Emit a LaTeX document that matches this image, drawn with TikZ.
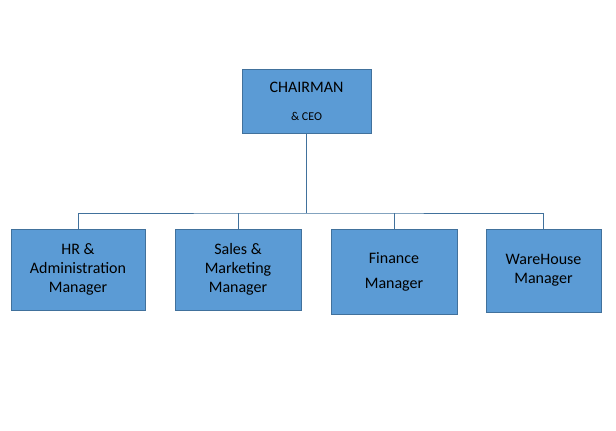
\documentclass[tikz,border=0pt]{standalone}
\usepackage{fontspec}
\setmainfont{Carlito}
\begin{document}
\begin{tikzpicture}[x=1pt,y=-1pt]
\definecolor{boxfill}{HTML}{5B9BD5}
\definecolor{boxline}{HTML}{41719C}
\definecolor{conn}{HTML}{41719C}
\tikzset{orgbox/.style={draw=boxline,fill=boxfill,line width=0.8pt,align=center,font=\fontsize{16}{19}\selectfont,text=black,inner sep=0pt},
 link/.style={draw=conn,line width=0.8pt}}
\useasboundingbox (0,0) rectangle (616,431);
\node[orgbox,minimum width=129pt,minimum height=64pt] (ceo) at (306.5,101) {};
\node at (306.5,87) {\fontsize{16}{19}\selectfont CHAIRMAN};
\node at (306.5,116) {\fontsize{12}{14}\selectfont \& CEO};
\node[orgbox,minimum width=134pt,minimum height=81pt] (hr) at (78,269.5) {HR \&\\Administration\\Manager};
\node[orgbox,minimum width=126pt,minimum height=81pt] (sm) at (238,269.5) {Sales \&\\Marketing\\Manager};
\node[orgbox,minimum width=126pt,minimum height=85pt] (fin) at (394,271.5) {Finance\\[6pt]Manager};
\node[orgbox,minimum width=115pt,minimum height=83pt] (wh) at (543.5,270.5) {WareHouse\\Manager};
\coordinate (bus) at (306.5,213);
\draw[link] (ceo.south) -- (bus);
\draw[link] (hr.north) |- (bus) -| (wh.north);
\draw[link] (sm.north) -- (sm.north |- bus);
\draw[link] (fin.north) -- (fin.north |- bus);
\end{tikzpicture}
\end{document}
